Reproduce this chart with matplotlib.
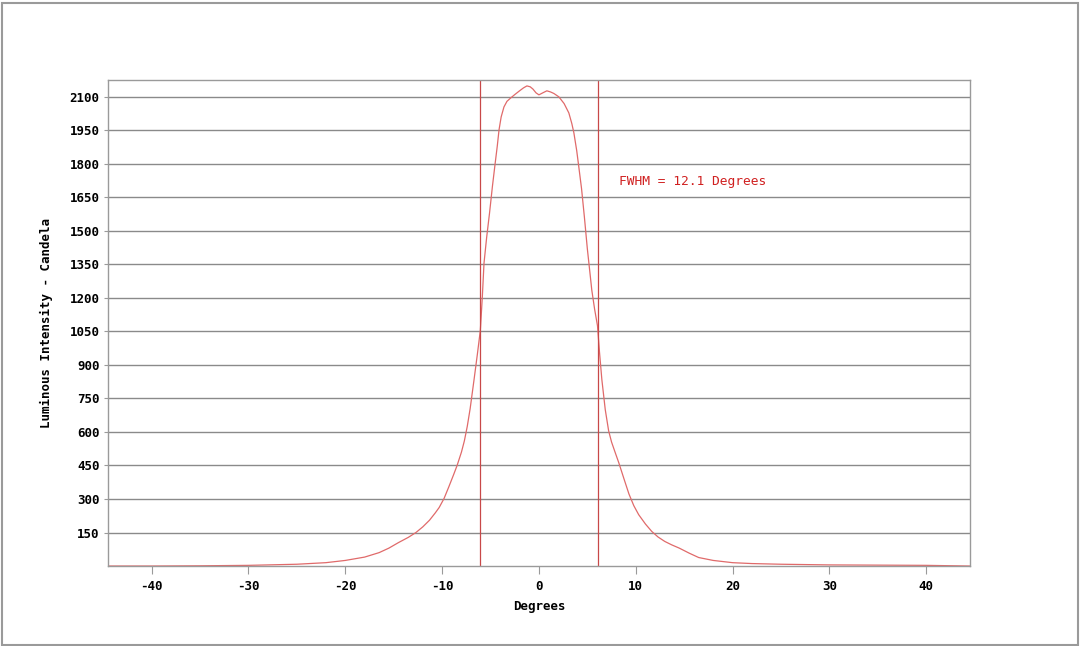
import matplotlib
matplotlib.use("Agg")
import matplotlib.pyplot as plt
from matplotlib.patches import Rectangle

plt.rcParams['axes.unicode_minus'] = False

# angle (degrees) vs luminous intensity (cd)
angle = [-44.5, -40, -35, -30, -25, -22, -20, -18, -16.5, -15.5, -14.5, -13.5,
         -12.7, -12.0, -11.3, -10.7, -10.3, -9.8, -9.3, -8.8, -8.45, -8.0,
         -7.7, -7.4, -7.1, -6.7, -6.35, -6.05, -5.85, -5.67, -5.4, -5.1, -4.8,
         -4.54, -4.3, -4.12, -3.9, -3.61, -3.3, -2.89, -2.5, -2.06, -1.6,
         -1.24, -0.9, -0.62, -0.3, 0.0, 0.4, 0.82, 1.2, 1.55, 2.06, 2.6,
         3.09, 3.4, 3.61, 3.9, 4.12, 4.4, 4.7, 5.0, 5.25, 5.46, 5.75, 6.05,
         6.25, 6.5, 6.85, 7.2, 7.5, 7.9, 8.25, 8.8, 9.3, 9.8, 10.3, 11.0, 11.65,
         12.3, 13.0, 13.7, 14.5, 15.5, 16.5, 18, 20, 22, 25, 30, 35, 40, 44.5]
intensity = [0, 0, 1, 3, 8, 15, 25, 40, 60, 80, 105, 128,
             150, 175, 205, 238, 262, 302, 355, 410, 450, 510,
             560, 625, 705, 834, 950, 1055, 1200, 1356, 1470, 1580, 1700,
             1795, 1880, 1952, 2010, 2055, 2080, 2096, 2110, 2125, 2140,
             2149, 2145, 2135, 2118, 2109, 2118, 2127, 2122, 2115, 2100, 2070,
             2028, 1980, 1939, 1860, 1786, 1690, 1560, 1420, 1320, 1235, 1150, 1075,
             960, 834, 700, 605, 555, 505, 462, 388, 322, 270, 230, 188, 155,
             130, 110, 95, 80, 58, 38, 25, 15, 11, 8, 5, 4, 3, 0]

fwhm_left, fwhm_right = -6.05, 6.05
fwhm_text = "FWHM = 12.1 Degrees"
xticks = list(range(-40, 41, 10))
yticks = list(range(150, 2101, 150))

mono = "DejaVu Sans Mono"

fig = plt.figure(figsize=(10.8, 6.46), dpi=100)
ax = fig.add_axes([0.1, 0.1238, 0.798, 0.7522])

ax.plot(angle, intensity, color="#e06a6a", lw=0.9)
ax.axvline(fwhm_left, color="#c84848", lw=0.9)
ax.axvline(fwhm_right, color="#c84848", lw=0.9)
ax.text(8.25, 1723, fwhm_text, color="#d02020", fontsize=9.3,
        family=mono, ha="left", va="center")

ax.set_xlim(-44.5, 44.5)
ax.set_ylim(0, 2175)
ax.set_xticks(xticks)
ax.set_yticks(yticks)
ax.yaxis.grid(True, color="#8a8a8a", lw=1.0)
ax.set_axisbelow(True)

for sp in ax.spines.values():
    sp.set_color("#9a9a9a")
    sp.set_linewidth(1.0)

ax.tick_params(axis="x", direction="out", length=6, color="#9a9a9a", pad=4)
ax.tick_params(axis="y", direction="out", length=3, color="#9a9a9a", pad=3)
for lab in ax.get_xticklabels() + ax.get_yticklabels():
    lab.set_family(mono)
    lab.set_fontweight("bold")
    lab.set_fontsize(9)

ax.set_xlabel("Degrees", family=mono, fontweight="bold", fontsize=9, labelpad=5)
ax.set_ylabel("Luminous Intensity - Candela", family=mono, fontweight="bold",
              fontsize=9, labelpad=12)

# thin border round the whole picture
fig.patches.append(Rectangle((0.002, 0.002), 0.996, 0.994, transform=fig.transFigure,
                             fill=False, edgecolor="#9a9a9a", lw=1.5))

fig.savefig("out.png", dpi=100)
